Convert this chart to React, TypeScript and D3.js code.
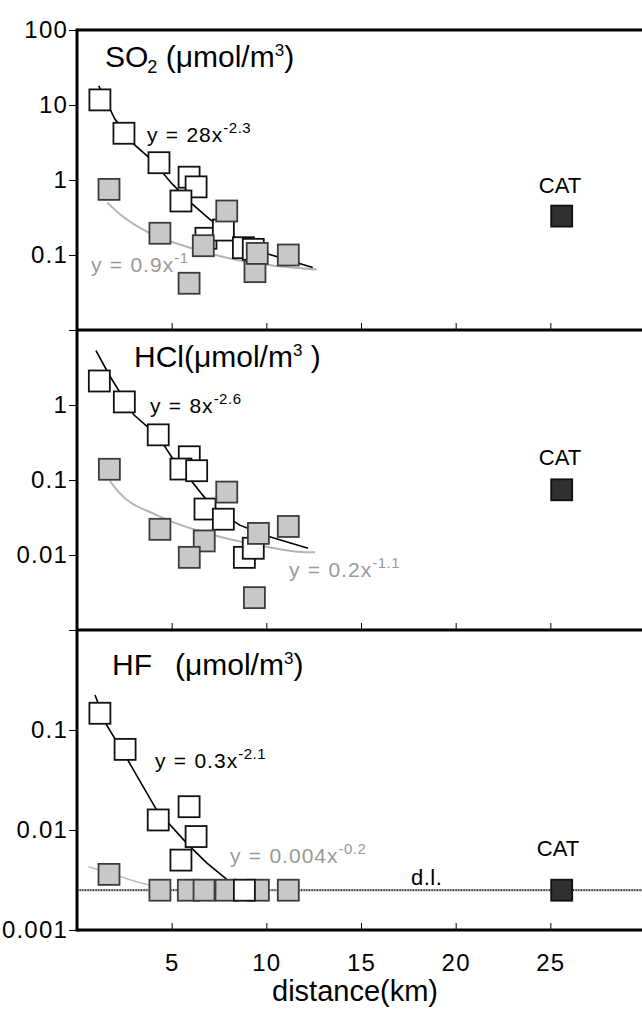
import React, { useEffect, useRef } from "react";
import * as d3 from "d3";

const FONT = "'Liberation Sans', Arial, Helvetica, sans-serif";

// x axis
const distanceTicks = [5, 10, 15, 20, 25];
const distanceDomain = [0, 30];

// SO2 panel (umol/m3)
const so2OpenKm = [1.21, 2.48, 4.33, 5.92, 6.29, 5.49, 6.81, 7.73, 8.79, 9.31];
const so2OpenVal = [11.7, 4.2, 1.7, 1.09, 0.81, 0.525, 0.167, 0.215, 0.125, 0.119];
const so2GrayKm = [1.69, 4.38, 6.67, 7.91, 5.92, 9.4, 9.52, 11.16];
const so2GrayVal = [0.75, 0.195, 0.133, 0.386, 0.042, 0.06, 0.105, 0.1];
const so2FitKm = [1.15, 2.0, 3.0, 4.0, 5.0, 6.0, 7.0, 8.0, 9.0, 10.0, 12.45];
const so2FitVal = [18, 6.5, 3.0, 1.8, 0.9, 0.5, 0.3, 0.2, 0.13, 0.105, 0.068];
const so2GrayFitKm = [1.6, 2.27, 3.86, 5.79, 8.26, 10.02, 12.66];
const so2GrayFitVal = [0.5, 0.35, 0.195, 0.129, 0.088, 0.074, 0.064];
const so2Cat = [25.6, 0.33];

// HCl panel
const hclOpenKm = [1.18, 2.5, 4.29, 5.93, 5.49, 6.32, 6.76, 7.73, 8.84, 9.31];
const hclOpenVal = [2.09, 1.1, 0.4, 0.204, 0.14, 0.133, 0.041, 0.03, 0.0093, 0.0123];
const hclGrayKm = [1.71, 4.38, 7.91, 6.72, 5.93, 9.58, 11.16, 9.37];
const hclGrayVal = [0.139, 0.022, 0.069, 0.0154, 0.0093, 0.0194, 0.024, 0.0027];
const hclFitKm = [1.0, 1.75, 3.0, 4.3, 5.1, 6.0, 6.85, 7.7, 8.6, 10.0, 12.2];
const hclFitVal = [5.3, 2.4, 0.74, 0.38, 0.185, 0.1, 0.054, 0.035, 0.025, 0.018, 0.0123];
const hclGrayFitKm = [1.74, 2.18, 4.21, 7.2, 10.02, 11.78, 12.58];
const hclGrayFitVal = [0.097, 0.07, 0.034, 0.0185, 0.0129, 0.011, 0.0109];
const hclCat = [25.6, 0.074];

// HF panel
const hfOpenKm = [1.21, 2.54, 4.29, 5.92, 6.29, 5.49, 8.84];
const hfOpenVal = [0.147, 0.064, 0.0126, 0.0171, 0.0086, 0.005, 0.0025];
const hfGrayKm = [1.69, 4.38, 5.88, 6.71, 7.87, 9.58, 11.16];
const hfGrayVal = [0.0036, 0.0025, 0.0025, 0.0025, 0.0025, 0.0025, 0.0025];
const hfFitKm = [0.95, 1.57, 2.63, 4.21, 5.79, 6.85, 7.91, 8.1];
const hfFitVal = [0.224, 0.112, 0.052, 0.0158, 0.0074, 0.0047, 0.0032, 0.003];
const hfGrayFitKm = [0.6, 1.74, 3.0, 4.21];
const hfGrayFitVal = [0.0043, 0.0037, 0.0031, 0.0027];
const hfCat = [25.6, 0.0025];
const hfDetectionLimit = 0.0025;

const zip = (xs, ys) => xs.map((x, i) => [x, ys[i]]);

const panels = [
  {
    top: 30, bottom: 330, domain: [0.01, 100],
    ticks: [100, 10, 1, 0.1, 0.01], labels: [100, 10, 1, 0.1],
    open: zip(so2OpenKm, so2OpenVal), gray: zip(so2GrayKm, so2GrayVal),
    fit: zip(so2FitKm, so2FitVal), grayFit: zip(so2GrayFitKm, so2GrayFitVal),
    cat: so2Cat, grayFitWidth: 2, openOnTop: false,
    title: [
      { t: "SO" },
      { t: "2", size: 18, dy: 6, dx: -1 },
      { t: " (μmol/m", dy: -6 },
      { t: "3", size: 17, dy: -11 },
      { t: ")", dy: 11 },
    ],
    titlePos: [105, 67],
    eq: { x: 147, y: 142, main: "y = 28x", sup: "-2.3", color: "#000" },
    grayEq: { x: 91, y: 272, main: "y = 0.9x", sup: "-1", color: "#999" },
    catLabel: [560, 193],
  },
  {
    top: 330, bottom: 630, domain: [0.001, 10],
    ticks: [10, 1, 0.1, 0.01, 0.001], labels: [1, 0.1, 0.01],
    open: zip(hclOpenKm, hclOpenVal), gray: zip(hclGrayKm, hclGrayVal),
    fit: zip(hclFitKm, hclFitVal), grayFit: zip(hclGrayFitKm, hclGrayFitVal),
    cat: hclCat, grayFitWidth: 2, openOnTop: false,
    title: [
      { t: "HCl(μmol/m" },
      { t: "3", size: 17, dy: -11 },
      { t: " )", dy: 11 },
    ],
    titlePos: [134, 367],
    eq: { x: 150, y: 413, main: "y = 8x", sup: "-2.6", color: "#000" },
    grayEq: { x: 289, y: 577, main: "y = 0.2x", sup: "-1.1", color: "#999" },
    catLabel: [560, 465],
  },
  {
    top: 630, bottom: 930, domain: [0.001, 1],
    ticks: [1, 0.1, 0.01, 0.001], labels: [0.1, 0.01, 0.001],
    open: zip(hfOpenKm, hfOpenVal), gray: zip(hfGrayKm, hfGrayVal),
    fit: zip(hfFitKm, hfFitVal), grayFit: zip(hfGrayFitKm, hfGrayFitVal),
    cat: hfCat, grayFitWidth: 1.2, dl: hfDetectionLimit, openOnTop: true,
    title: [
      { t: "HF" },
      { t: "(μmol/m", dx: 23 },
      { t: "3", size: 17, dy: -11 },
      { t: ")", dy: 11 },
    ],
    titlePos: [112, 675],
    eq: { x: 155, y: 768, main: "y = 0.3x", sup: "-2.1", color: "#000" },
    grayEq: { x: 230, y: 863, main: "y = 0.004x", sup: "-0.2", color: "#999" },
    catLabel: [558, 856],
  },
];

const App = () => {
  const ref = useRef(null);

  useEffect(() => {
    const svg = d3.select(ref.current);
    svg.selectAll("*").remove();
    svg.style("font-family", FONT);

    const left = 77;
    const x = d3.scaleLinear().domain(distanceDomain).range([left, 645]);
    const sq = 21;

    panels.forEach((p, pi) => {
      const y = d3.scaleLog().domain(p.domain).range([p.bottom, p.top]);
      const g = svg.append("g");

      // y axis ticks
      const yAxis = d3
        .axisLeft(y)
        .tickValues(p.ticks)
        .tickSize(8)
        .tickPadding(1)
        .tickFormat((d) => (p.labels.includes(d) ? String(d) : ""));
      const ya = g.append("g").attr("transform", `translate(${left},0)`).call(yAxis);
      ya.select(".domain").remove();
      ya.selectAll("line").attr("stroke", "#000").attr("stroke-width", 1);
      ya.selectAll("text")
        .attr("font-size", 24)
        .attr("font-family", FONT)
        .attr("letter-spacing", 1.2)
        .attr("fill", "#000");

      // x axis ticks inside the bottom edge
      const xAxis = d3
        .axisBottom(x)
        .tickValues(distanceTicks)
        .tickSize(-7)
        .tickFormat((d) => (pi === panels.length - 1 ? String(d) : ""));
      const xa = g.append("g").attr("transform", `translate(0,${p.bottom})`).call(xAxis);
      xa.select(".domain").remove();
      xa.selectAll("line").attr("stroke", "#000").attr("stroke-width", 1);
      xa.selectAll("text")
        .attr("y", 41)
        .attr("dy", 0)
        .attr("font-size", 24)
        .attr("font-family", FONT)
        .attr("letter-spacing", 1.2)
        .attr("fill", "#000");

      const line = d3.line().x((d) => x(d[0])).y((d) => y(d[1]));

      // detection limit
      if (p.dl) {
        g.append("line")
          .attr("x1", left)
          .attr("x2", 645)
          .attr("y1", y(p.dl))
          .attr("y2", y(p.dl))
          .attr("stroke", "#3a3a3a")
          .attr("stroke-width", 2.2)
          .attr("stroke-dasharray", "1 0.6");
        g.append("text")
          .attr("x", 411)
          .attr("y", 885)
          .attr("font-size", 22)
          .attr("letter-spacing", 0.5)
          .text("d.l.");
      }

      // fits
      g.append("path")
        .attr("d", line.curve(d3.curveMonotoneX)(p.grayFit))
        .attr("fill", "none")
        .attr("stroke", "#b4b4b4")
        .attr("stroke-width", p.grayFitWidth);
      g.append("path")
        .attr("d", line.curve(d3.curveLinear)(p.fit))
        .attr("fill", "none")
        .attr("stroke", "#000")
        .attr("stroke-width", 1.6);

      // squares
      const drawSquares = (pts, fill, stroke) =>
        g.append("g")
          .selectAll("rect")
          .data(pts)
          .enter()
          .append("rect")
          .attr("x", (d) => x(d[0]) - sq / 2)
          .attr("y", (d) => y(d[1]) - sq / 2)
          .attr("width", sq)
          .attr("height", sq)
          .attr("fill", fill)
          .attr("stroke", stroke)
          .attr("stroke-width", 1.8);

      if (p.openOnTop) {
        drawSquares(p.gray, "#c8c8c8", "#3c3c3c");
        drawSquares(p.open, "#fff", "#111");
      } else {
        drawSquares(p.open, "#fff", "#111");
        drawSquares(p.gray, "#c8c8c8", "#3c3c3c");
      }
      drawSquares([p.cat], "#303030", "#111");

      g.append("text")
        .attr("x", p.catLabel[0])
        .attr("y", p.catLabel[1])
        .attr("text-anchor", "middle")
        .attr("font-size", 22)
        .text("CAT");

      // equations
      [p.eq, p.grayEq].forEach((e) => {
        const t = g.append("text")
          .attr("x", e.x)
          .attr("y", e.y)
          .attr("fill", e.color)
          .attr("font-size", 21)
          .attr("letter-spacing", 1)
          .attr("word-spacing", 0.5);
        t.append("tspan").text(e.main);
        t.append("tspan").attr("font-size", 15).attr("dy", -9).attr("letter-spacing", 0.5).text(e.sup);
      });

      // title
      const tt = g.append("text")
        .attr("x", p.titlePos[0])
        .attr("y", p.titlePos[1])
        .attr("font-size", 30)
        .attr("fill", "#000");
      p.title.forEach((s) => {
        const ts = tt.append("tspan").text(s.t);
        if (s.size) ts.attr("font-size", s.size);
        if (s.dy) ts.attr("dy", s.dy);
        if (s.dx) ts.attr("dx", s.dx);
      });
    });

    // frame
    const frame = svg.append("g").attr("stroke", "#000").attr("stroke-width", 3);
    frame.append("line").attr("x1", left).attr("x2", left).attr("y1", 28.5).attr("y2", 931.5);
    [30, 330, 630, 930].forEach((yy) => {
      frame.append("line").attr("x1", left).attr("x2", 645).attr("y1", yy).attr("y2", yy);
    });

    svg.append("text")
      .attr("x", 355)
      .attr("y", 1001)
      .attr("text-anchor", "middle")
      .attr("font-size", 29)
      .text("distance(km)");
  }, []);

  return (
    <svg
      ref={ref}
      width={642}
      height={1012}
      style={{ position: "absolute", left: 0, top: 0, background: "#fff" }}
    ></svg>
  );
};

export default App;
